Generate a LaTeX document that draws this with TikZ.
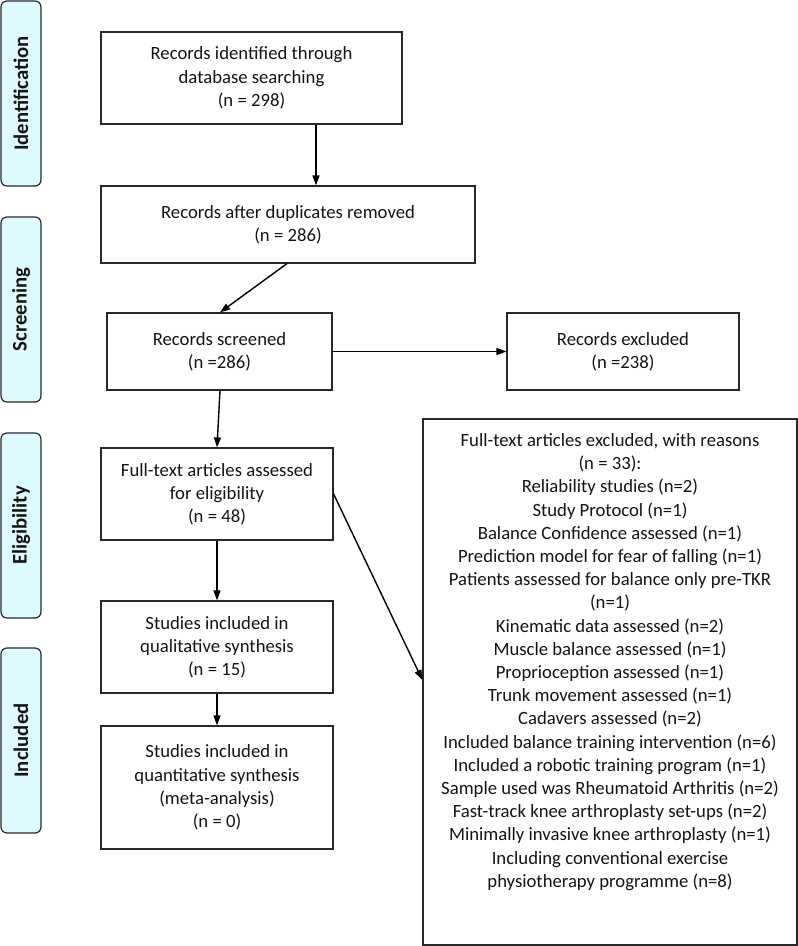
\documentclass[tikz,border=0pt]{standalone}
\usepackage{fontspec}
\setmainfont{Carlito}
\usetikzlibrary{arrows.meta,calc}
\definecolor{sidefill}{RGB}{221,251,255}
\definecolor{edge}{RGB}{40,40,40}
\definecolor{txt}{RGB}{20,20,20}
\begin{document}
\begin{tikzpicture}[x=1pt,y=-1pt,
  box/.style={draw=edge,line width=1.2pt,fill=white,align=center,inner sep=0pt,
    text=txt,font=\fontsize{18.7}{23.2}\selectfont},
  plain/.style={align=center,inner sep=0pt,text=txt,font=\fontsize{18.7}{23.2}\selectfont},
  side/.style={draw=edge,line width=1.2pt,fill=sidefill,rounded corners=6pt,rotate=90,
    minimum width=185pt,minimum height=40pt,inner sep=0pt,text=txt,
    font=\fontsize{20.7}{24}\selectfont\bfseries},
  arr/.style={-{Triangle[length=10pt,width=7pt]},line width=1.4pt,black}]
\useasboundingbox (0,0) rectangle (798,946);

% phase labels
\node[side] (sid) at (21,93.5) {Identification};
\node[side] (ssc) at (21,309.5) {Screening};
\node[side] (sel) at (21,525.5) {Eligibility};
\node[side] (sin) at (21,740.5) {Included};

% boxes
\node[box,minimum width=301pt,minimum height=92pt] (b1) at (251.5,78)
  {Records identified through\\database searching\\(n = 298)};
\node[box,minimum width=374pt,minimum height=77pt] (b2) at (288,224.5)
  {Records after duplicates removed\\(n = 286)};
\node[box,minimum width=225pt,minimum height=77pt] (b3) at (219.5,351.5)
  {Records screened\\(n =286)};
\node[box,minimum width=232pt,minimum height=77pt] (excl) at (623,351.5)
  {Records excluded\\(n =238)};
\node[box,minimum width=232pt,minimum height=92pt] (elig) at (217,494)
  {Full-text articles assessed\\for eligibility\\(n = 48)};
\node[box,minimum width=232pt,minimum height=92pt] (qual) at (217,647)
  {Studies included in\\qualitative synthesis\\(n = 15)};
\node[box,minimum width=232pt,minimum height=123pt] (quant) at (217,787.5)
  {Studies included in\\quantitative synthesis\\(meta-analysis)\\(n = 0)};
\node[box,minimum width=374pt,minimum height=526pt] (big) at (610,682) {};
\node[plain] (bigtext) at (610,662)
  {Full-text articles excluded, with reasons\\(n = 33):\\Reliability studies (n=2)\\Study Protocol (n=1)\\Balance Confidence assessed (n=1)\\Prediction model for fear of falling (n=1)\\Patients assessed for balance only pre-TKR\\(n=1)\\Kinematic data assessed (n=2)\\Muscle balance assessed (n=1)\\Proprioception assessed (n=1)\\Trunk movement assessed (n=1)\\Cadavers assessed (n=2)\\Included balance training intervention (n=6)\\Included a robotic training program (n=1)\\Sample used was Rheumatoid Arthritis (n=2)\\Fast-track knee arthroplasty set-ups (n=2)\\Minimally invasive knee arthroplasty (n=1)\\Including conventional exercise\\physiotherapy programme (n=8)};

% helper coordinates
\coordinate (c1) at (316,0);
\coordinate (c2) at (287,0);
\coordinate (c3) at (220,0);
\coordinate (c4) at (0,680);

% connectors
\draw[arr] (b1.south -| c1) -- (b2.north -| c1);
\draw[arr] (b2.south -| c2) -- (b3.north -| c3);
\draw[arr] (b3.east) -- (excl.west);
\draw[arr] (b3.south -| c3) -- (elig.north);
\draw[arr] (elig.east) -- (big.west |- c4);
\draw[arr] (elig.south) -- (qual.north);
\draw[arr] (qual.south) -- (quant.north);
\end{tikzpicture}
\end{document}
